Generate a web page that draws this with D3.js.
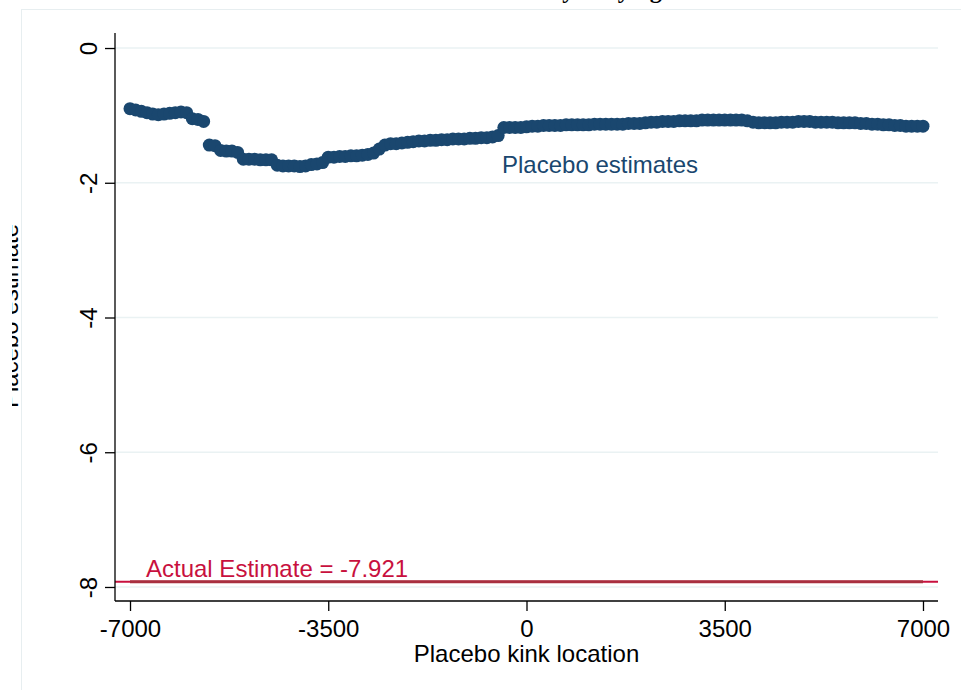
<!DOCTYPE html>
<html>
<head>
<meta charset="utf-8">
<script src="https://cdn.jsdelivr.net/npm/d3@7"></script>
<style>
  html, body { margin: 0; padding: 0; background: #fff; }
  svg { display: block; }
  text { font-family: "Liberation Sans", Arial, sans-serif; }
</style>
</head>
<body>
<svg id="chart" width="961" height="690"></svg>
<script>
// ---- data ----
const titleParts = ["Placebo Estimates ", "by Varying Kink Location"];
const xLabel = "Placebo kink location";
const yLabel = "Placebo estimate";
const xTicks = [-7000, -3500, 0, 3500, 7000];
const yTicks = [0, -2, -4, -6, -8];
const actualEstimate = -7.921;
const actualLabel = "Actual Estimate = -7.921";
const placeboLabel = "Placebo estimates";
const kinkLocations = d3.range(-7000, 7001, 100);
const placeboEstimates = [
  -0.90, -0.92, -0.94, -0.96, -0.98, -0.99, -0.98, -0.97, -0.96, -0.95,
  -0.96, -1.05, -1.06, -1.09, -1.44, -1.45, -1.52, -1.53, -1.53, -1.55,
  -1.65, -1.65, -1.65, -1.66, -1.66, -1.66, -1.74, -1.75, -1.75, -1.75,
  -1.76, -1.75, -1.73, -1.72, -1.70, -1.62, -1.62, -1.61, -1.61, -1.60,
  -1.60, -1.59, -1.58, -1.56, -1.50, -1.44, -1.42, -1.42, -1.41, -1.40,
  -1.39, -1.38, -1.38, -1.37, -1.37, -1.36, -1.36, -1.35, -1.35, -1.35,
  -1.34, -1.34, -1.33, -1.33, -1.32, -1.30, -1.18, -1.18, -1.18, -1.18,
  -1.17, -1.16, -1.16, -1.15, -1.15, -1.15, -1.15, -1.14, -1.14, -1.14,
  -1.14, -1.14, -1.13, -1.13, -1.13, -1.13, -1.13, -1.13, -1.12, -1.12,
  -1.12, -1.11, -1.10, -1.10, -1.09, -1.09, -1.09, -1.08, -1.08, -1.08,
  -1.08, -1.07, -1.07, -1.07, -1.07, -1.07, -1.07, -1.07, -1.07, -1.08,
  -1.10, -1.11, -1.11, -1.11, -1.11, -1.10, -1.10, -1.10, -1.09, -1.09,
  -1.09, -1.10, -1.10, -1.10, -1.10, -1.11, -1.11, -1.11, -1.11, -1.12,
  -1.12, -1.13, -1.13, -1.14, -1.14, -1.15, -1.15, -1.16, -1.16, -1.16,
  -1.16
];

// ---- layout ----
const svg = d3.select("#chart");
const pLeft = 115, pRight = 938, pTop = 33, pBottom = 601;
const x = d3.scaleLinear().domain([-7265, 7265]).range([pLeft, pRight]);
const y = d3.scaleLinear().domain([0.223, -8.208]).range([pTop, pBottom]);

const navy = "#1a476f";
const crimson = "#c8103e";
const fmt = d => String(d);

// outer frame
svg.append("rect").attr("x", 21.5).attr("y", 9.5).attr("width", 1000).attr("height", 1000)
  .attr("fill", "none").attr("stroke", "#e7eef0").attr("stroke-width", 1);

// title (cut at top)
svg.append("text").attr("x", 549).attr("y", -2).attr("text-anchor", "end")
  .style("font-family", "'Liberation Serif', serif").style("font-weight", "bold")
  .style("font-size", "24px").text(titleParts[0]);
svg.append("text").attr("x", 549).attr("y", -2).attr("text-anchor", "start")
  .style("font-family", "'Liberation Serif', serif").style("font-weight", "bold")
  .style("font-size", "24px").text(titleParts[1]);

// gridlines
svg.append("g").selectAll("line").data(yTicks).join("line")
  .attr("x1", pLeft).attr("x2", pRight)
  .attr("y1", d => y(d)).attr("y2", d => y(d))
  .attr("stroke", "#eaf2f3").attr("stroke-width", 1.5);

// actual estimate line
svg.append("line").attr("x1", pLeft).attr("x2", pRight)
  .attr("y1", y(actualEstimate)).attr("y2", y(actualEstimate))
  .attr("stroke", crimson).attr("stroke-width", 2);
svg.append("line").attr("x1", x(kinkLocations[0])).attr("x2", x(kinkLocations[kinkLocations.length - 1]))
  .attr("y1", y(actualEstimate)).attr("y2", y(actualEstimate))
  .attr("stroke", "#a8303f").attr("stroke-width", 3);

// points
svg.append("g").selectAll("circle").data(kinkLocations).join("circle")
  .attr("cx", d => x(d)).attr("cy", (d, i) => y(placeboEstimates[i]))
  .attr("r", 6.5).attr("fill", navy);

// axes
const yAxis = d3.axisLeft(y).tickValues(yTicks).tickSize(10).tickFormat(fmt);
const gy = svg.append("g").attr("transform", `translate(${pLeft},0)`).call(yAxis);
gy.select(".domain").attr("d", `M0,${pTop}V${pBottom}`).attr("stroke", "#000").attr("stroke-width", 1.3);
gy.selectAll(".tick line").attr("stroke", "#000").attr("stroke-width", 1.3);
gy.selectAll(".tick text")
  .attr("x", 0).attr("y", 0).attr("dy", 0)
  .attr("transform", "translate(-18,0) rotate(-90)")
  .attr("text-anchor", "middle")
  .style("font-size", "24px").style("font-family", "'Liberation Sans', Arial, sans-serif")
  .attr("fill", "#000");

const xAxis = d3.axisBottom(x).tickValues(xTicks).tickSize(10).tickFormat(fmt);
const gx = svg.append("g").attr("transform", `translate(0,${pBottom})`).call(xAxis);
gx.select(".domain").attr("d", `M${pLeft},0H${pRight}`).attr("stroke", "#000").attr("stroke-width", 1.3);
gx.selectAll(".tick line").attr("stroke", "#000").attr("stroke-width", 1.3);
gx.selectAll(".tick text").attr("y", 0).attr("dy", 0)
  .attr("transform", "translate(0,36)")
  .style("font-size", "24px").style("font-family", "'Liberation Sans', Arial, sans-serif")
  .attr("fill", "#000");

// axis titles
svg.append("text").attr("x", x(0)).attr("y", 662).attr("text-anchor", "middle")
  .style("font-size", "24px").text(xLabel);

const defs = svg.append("defs");
defs.append("clipPath").attr("id", "ylabclip").append("rect")
  .attr("x", 12).attr("y", 0).attr("width", 100).attr("height", 690);
svg.append("g").attr("clip-path", "url(#ylabclip)")
  .append("text").attr("transform", "translate(18,316) rotate(-90)")
  .attr("text-anchor", "middle").style("font-size", "24px").text(yLabel);

// annotations
svg.append("text").attr("x", 502).attr("y", 173).attr("fill", navy)
  .style("font-size", "24px").text(placeboLabel);
svg.append("text").attr("x", 146).attr("y", 577).attr("fill", crimson)
  .style("font-size", "24px").text(actualLabel);
</script>
</body>
</html>
